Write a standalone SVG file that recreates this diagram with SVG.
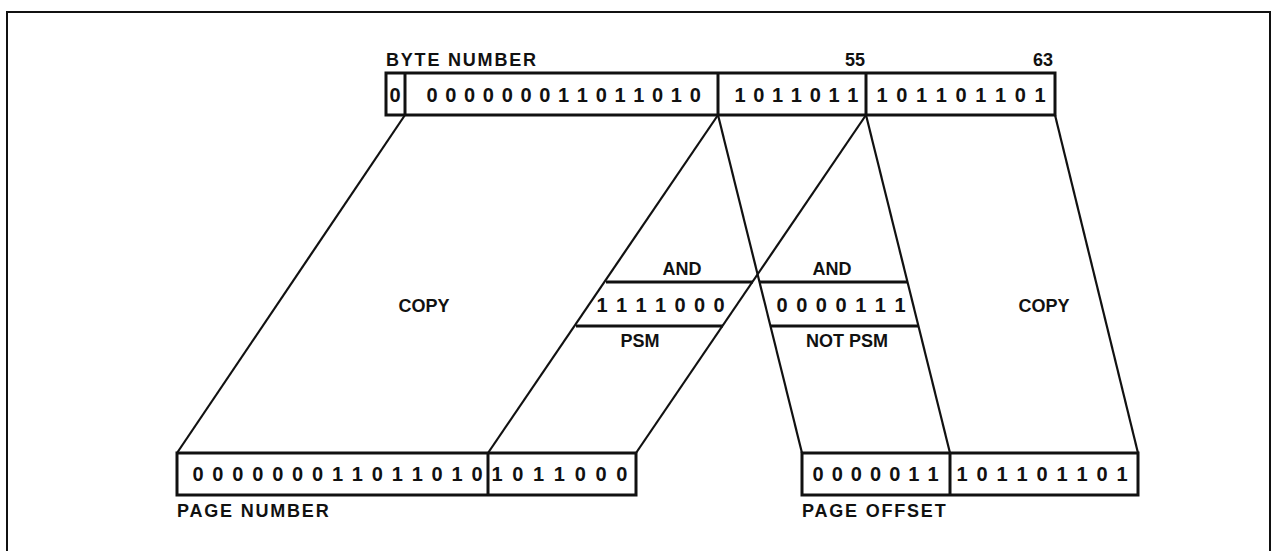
<svg xmlns="http://www.w3.org/2000/svg" width="1277" height="551" viewBox="0 0 1277 551">
<style>
.bg{fill:#ffffff}
.frame{fill:none;stroke:#111;stroke-width:2}
.box{fill:none;stroke:#111;stroke-width:3}
.line{fill:none;stroke:#111;stroke-width:2.2}
.bar{fill:none;stroke:#111;stroke-width:3}
.lbl{font-family:"Liberation Sans",Arial,sans-serif;font-weight:bold;font-size:18px;fill:#111;letter-spacing:1.8px}
.ctr{font-family:"Liberation Sans",Arial,sans-serif;font-weight:bold;font-size:18px;fill:#111;text-anchor:middle}
.dig{font-family:"Liberation Sans",Arial,sans-serif;font-weight:bold;font-size:20px;fill:#111;text-anchor:middle}
</style>
<rect class="bg" x="0" y="0" width="1277" height="551"/>
<path class="frame" d="M7,551 V12 H1270 V551"/>

<g id="connectors">
<line class="line" x1="405" y1="115" x2="177" y2="453"/>
<line class="line" x1="718" y1="115" x2="488" y2="453"/>
<line class="line" x1="866" y1="115" x2="636" y2="453"/>
<line class="line" x1="718" y1="115" x2="802" y2="453"/>
<line class="line" x1="866" y1="115" x2="950" y2="453"/>
<line class="line" x1="1055" y1="115" x2="1138" y2="453"/>
</g>

<g id="byte-number">
<text class="lbl" x="386" y="66">BYTE NUMBER</text>
<text class="ctr" x="855" y="66">55</text>
<text class="ctr" x="1043" y="66">63</text>
<rect class="box" x="386" y="73" width="669" height="42"/>
<line class="box" x1="405" y1="73" x2="405" y2="115"/>
<line class="box" x1="718" y1="73" x2="718" y2="115"/>
<line class="box" x1="866" y1="73" x2="866" y2="115"/>
<text class="dig" x="395" y="102">0</text>
<text class="dig" x="432 450.8 469.6 488.4 507.2 526 544.8 563.6 582.4 601.2 620 638.8 657.6 676.4 695.2" y="102">000000011011010</text>
<text class="dig" x="740 758.8 777.6 796.4 815.2 834 852.8" y="102">1011011</text>
<text class="dig" x="882 901.75 921.5 941.25 961 980.75 1000.5 1020.25 1040" y="102">101101101</text>
</g>

<g id="copy-left">
<text class="ctr" x="424" y="312">COPY</text>
</g>

<g id="mask-psm">
<text class="ctr" x="682" y="275">AND</text>
<line class="bar" x1="606" y1="282" x2="753" y2="282"/>
<text class="dig" x="602 621.5 641 660.5 680 699.5 719" y="312">1111000</text>
<line class="bar" x1="576" y1="326" x2="723" y2="326"/>
<text class="ctr" x="640" y="347">PSM</text>
</g>

<g id="mask-not-psm">
<text class="ctr" x="832" y="275">AND</text>
<line class="bar" x1="759" y1="282" x2="907" y2="282"/>
<text class="dig" x="782 801.7 821.3 841 860.7 880.3 900" y="312">0000111</text>
<line class="bar" x1="770" y1="326" x2="918" y2="326"/>
<text class="ctr" x="847" y="347">NOT PSM</text>
</g>

<g id="copy-right">
<text class="ctr" x="1044" y="312">COPY</text>
</g>

<g id="page-number">
<rect class="box" x="177" y="453" width="459" height="42"/>
<line class="box" x1="488" y1="453" x2="488" y2="495"/>
<text class="dig" x="198 217.9 237.9 257.8 277.7 297.6 317.6 337.5 357.4 377.4 397.3 417.2 437.1 457.1 477" y="481">000000011011010</text>
<text class="dig" x="497 517.8 538.6 559.4 580.2 601 621.8" y="481">1011000</text>
<text class="lbl" x="177" y="517">PAGE NUMBER</text>
</g>

<g id="page-offset">
<rect class="box" x="802" y="453" width="336" height="42"/>
<line class="box" x1="950" y1="453" x2="950" y2="495"/>
<text class="dig" x="818 837.2 856.3 875.5 894.7 913.8 933" y="481">0000011</text>
<text class="dig" x="962 982 1002 1022 1042 1062 1082 1102 1122" y="481">101101101</text>
<text class="lbl" x="802" y="517">PAGE OFFSET</text>
</g>
</svg>
